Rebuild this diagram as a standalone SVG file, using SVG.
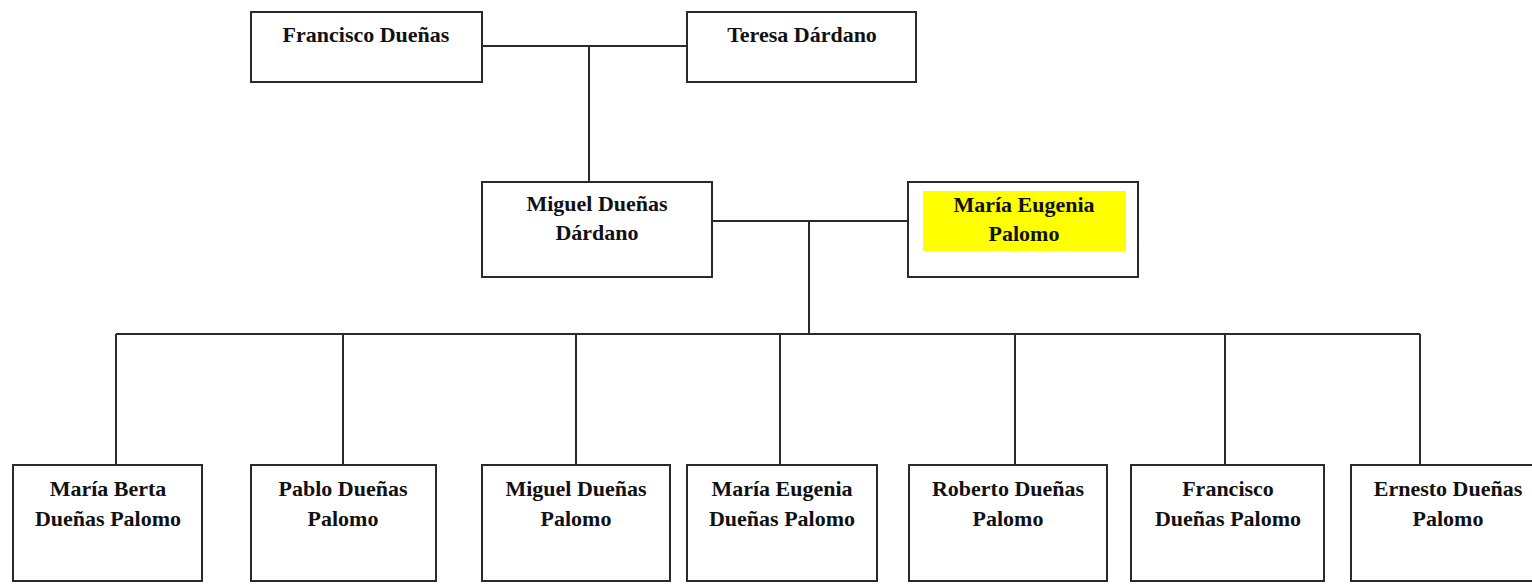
<svg xmlns="http://www.w3.org/2000/svg" width="1532" height="584" viewBox="0 0 1532 584">
<style>
.box{fill:#fff;stroke:#2a2a2a;stroke-width:2}
.ln{fill:none;stroke:#2a2a2a;stroke-width:2}
.t{font-family:"Liberation Serif","Times New Roman",serif;font-weight:bold;font-size:22px;fill:#111;text-anchor:middle}
</style>
<rect width="1532" height="584" fill="#fff"/>
<g id="connectors">
<path class="ln" d="M482 46H687M589 46V182"/>
<path class="ln" d="M712 221H908M809 221V334"/>
<path class="ln" d="M116 334H1420M116 334V465M343 334V465M576 334V465M780 334V465M1015 334V465M1225 334V465M1420 334V465"/>
</g>
<g id="n-francisco"><rect class="box" x="251" y="12" width="231" height="70"/><text class="t" x="366" y="42">Francisco Dueñas</text></g>
<g id="n-teresa"><rect class="box" x="687" y="12" width="229" height="70"/><text class="t" x="802" y="42">Teresa Dárdano</text></g>
<g id="n-miguel"><rect class="box" x="482" y="182" width="230" height="95"/><text class="t" x="597" y="211">Miguel Dueñas</text><text class="t" x="597" y="240">Dárdano</text></g>
<g id="n-mariaeugenia"><rect class="box" x="908" y="182" width="230" height="95"/><rect x="923" y="191" width="203" height="60" fill="#ffff00"/><text class="t" x="1024" y="212">María Eugenia</text><text class="t" x="1024" y="241">Palomo</text></g>
<g id="c1"><rect class="box" x="13" y="465" width="189" height="116"/><text class="t" x="108" y="496">María Berta</text><text class="t" x="108" y="526">Dueñas Palomo</text></g>
<g id="c2"><rect class="box" x="251" y="465" width="185" height="116"/><text class="t" x="343" y="496">Pablo Dueñas</text><text class="t" x="343" y="526">Palomo</text></g>
<g id="c3"><rect class="box" x="482" y="465" width="188" height="116"/><text class="t" x="576" y="496">Miguel Dueñas</text><text class="t" x="576" y="526">Palomo</text></g>
<g id="c4"><rect class="box" x="687" y="465" width="190" height="116"/><text class="t" x="782" y="496">María Eugenia</text><text class="t" x="782" y="526">Dueñas Palomo</text></g>
<g id="c5"><rect class="box" x="909" y="465" width="198" height="116"/><text class="t" x="1008" y="496">Roberto Dueñas</text><text class="t" x="1008" y="526">Palomo</text></g>
<g id="c6"><rect class="box" x="1131" y="465" width="193" height="116"/><text class="t" x="1228" y="496">Francisco</text><text class="t" x="1228" y="526">Dueñas Palomo</text></g>
<g id="c7"><rect class="box" x="1351" y="465" width="194" height="116"/><text class="t" x="1448" y="496">Ernesto Dueñas</text><text class="t" x="1448" y="526">Palomo</text></g>
</svg>
